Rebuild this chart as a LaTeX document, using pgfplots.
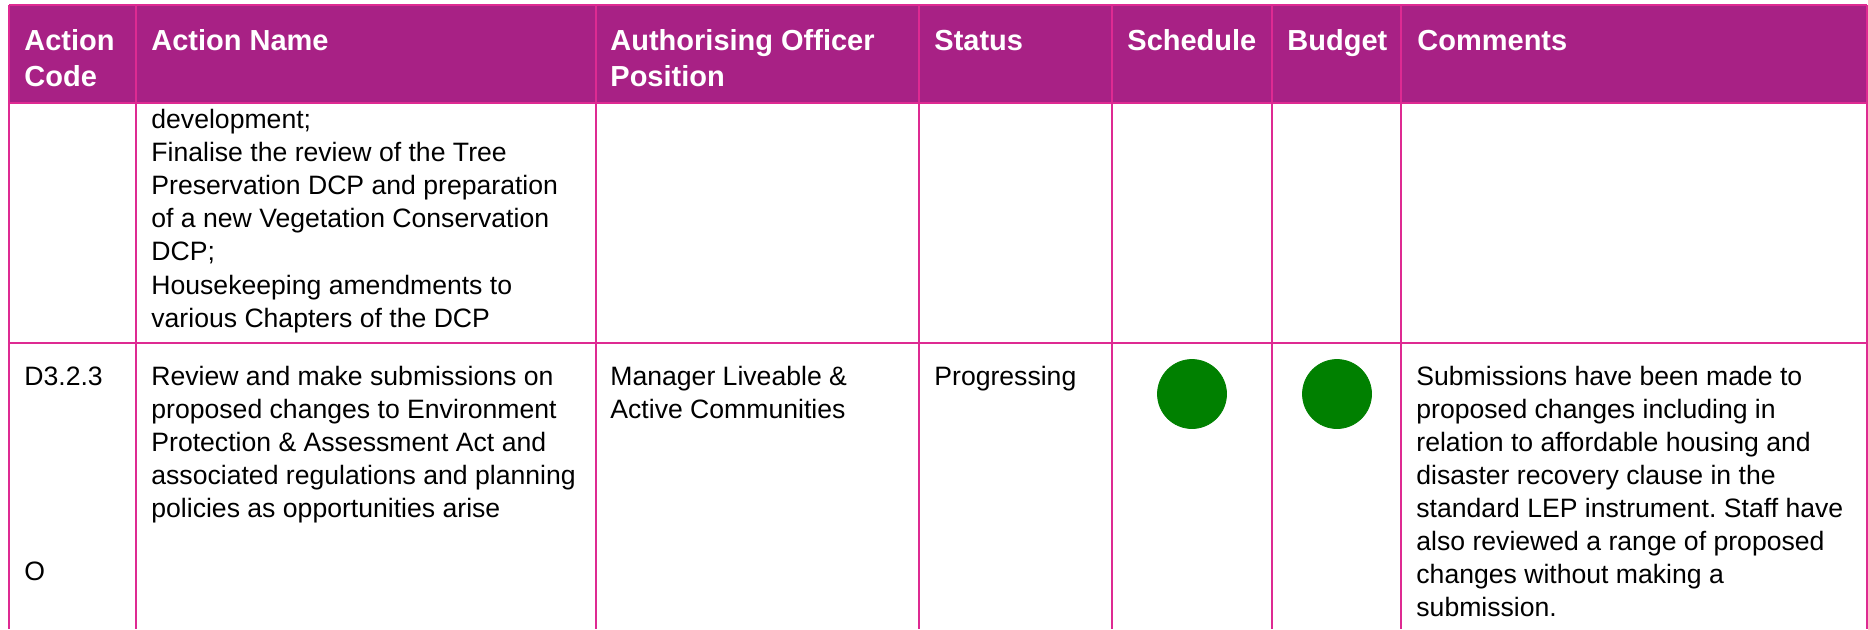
\documentclass[border=0pt]{standalone}
\usepackage{pgfplots}
\pgfplotsset{compat=1.18}
\usepackage{fontspec}
\setmainfont{Liberation Sans}
\frenchspacing
\definecolor{hdr}{RGB}{168,33,133}
\definecolor{grd}{RGB}{222,42,146}
\definecolor{dot}{RGB}{0,128,0}
\newcommand{\bl}[3]{\node[anchor=base west,inner sep=0pt,font=\fontsize{13.3pt}{16pt}\selectfont] at (axis cs:#1,#2) {#3};}
\newcommand{\hl}[3]{\node[anchor=base west,inner sep=0pt,text=white,font=\fontsize{14.5pt}{18pt}\selectfont\bfseries] at (axis cs:#1,#2) {#3};}
\newcommand{\gridh}[1]{\draw[grd, line width=0.8pt] (axis cs:9,#1) -- (axis cs:1867,#1);}
\newcommand{\gridv}[1]{\draw[grd, line width=0.6pt] (axis cs:#1,5) -- (axis cs:#1,629);}
\begin{document}
\begin{tikzpicture}
\begin{axis}[
  width=934pt, height=314.5pt, scale only axis,
  xmin=0, xmax=1868, ymin=0, ymax=629, y dir=reverse,
  hide axis, clip=false,
]
\fill[hdr] (axis cs:9,5) rectangle (axis cs:1867,103);
\gridh{5}
\gridh{103}
\gridh{343}
\gridv{9}
\gridv{136}
\gridv{596}
\gridv{919}
\gridv{1112}
\gridv{1272}
\gridv{1401}
\gridv{1867}
% header
\hl{24}{50}{Action}
\hl{24}{86}{Code}
\hl{151}{50}{Action Name}
\hl{610}{50}{Authorising Officer}
\hl{610}{86}{Position}
\hl{934}{50}{Status}
\hl{1127}{50}{Schedule}
\hl{1287}{50}{Budget}
\hl{1417}{50}{Comments}
% row 1
\bl{151}{128}{development;}
\bl{151}{161.2}{Finalise the review of the Tree}
\bl{151}{194.4}{Preservation DCP and preparation}
\bl{151}{227.6}{of a new Vegetation Conservation}
\bl{151}{260.8}{DCP;}
\bl{151}{294}{Housekeeping amendments to}
\bl{151}{327.2}{various Chapters of the DCP}
% row 2
\bl{24}{385}{D3.2.3}
\bl{24}{580}{O}
\bl{151}{385}{Review and make submissions on}
\bl{151}{418.1}{proposed changes to Environment}
\bl{151}{451.2}{Protection \& Assessment Act and}
\bl{151}{484.3}{associated regulations and planning}
\bl{151}{517.4}{policies as opportunities arise}
\bl{610}{385}{Manager Liveable \&}
\bl{610}{418.1}{Active Communities}
\bl{934}{385}{Progressing}
\bl{1416}{385}{Submissions have been made to}
\bl{1416}{418}{proposed changes including in}
\bl{1416}{451}{relation to affordable housing and}
\bl{1416}{484}{disaster recovery clause in the}
\bl{1416}{517}{standard LEP instrument. Staff have}
\bl{1416}{550}{also reviewed a range of proposed}
\bl{1416}{583}{changes without making a}
\bl{1416}{616}{submission.}
\addplot[only marks, mark=*, mark size=17.25pt, color=dot, mark options={draw=dot, fill=dot}] coordinates {(1192,394) (1337,394)};
\end{axis}
\pgfresetboundingbox
\path[use as bounding box] (0,0) rectangle (934pt,314.5pt);
\end{tikzpicture}
\end{document}
